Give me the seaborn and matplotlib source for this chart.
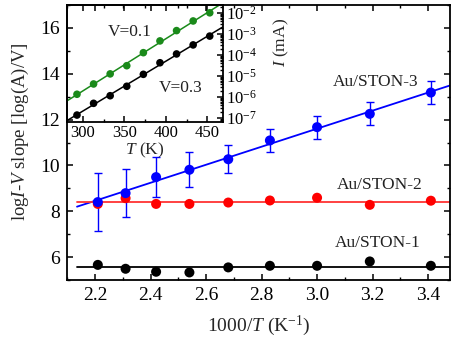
import numpy as np
import pandas as pd
import seaborn as sns
import matplotlib
matplotlib.use("Agg")
import matplotlib.pyplot as plt
from matplotlib.ticker import MultipleLocator, LogLocator, NullFormatter, LogFormatterMathtext

# ---- data ----
temps = [293, 313, 333, 353, 373, 393, 413, 433, 453]
inv_T = [2.21, 2.31, 2.42, 2.54, 2.68, 2.83, 3.00, 3.19, 3.41]
slope_ston3 = [8.40, 8.79, 9.49, 9.81, 10.27, 11.09, 11.67, 12.25, 13.18]
err_ston3 = [1.25, 1.05, 0.86, 0.76, 0.60, 0.50, 0.50, 0.50, 0.50]
slope_ston2 = [8.32, 8.57, 8.32, 8.32, 8.38, 8.47, 8.59, 8.28, 8.46]
slope_ston1 = [5.66, 5.49, 5.36, 5.33, 5.55, 5.62, 5.62, 5.81, 5.62]
I_v01 = [1.35e-6, 4.17e-6, 1.26e-5, 3.09e-5, 1.29e-4, 4.68e-4, 1.45e-3, 4.17e-3, 1.02e-2]
I_v03 = [1.38e-7, 5.0e-7, 1.15e-6, 3.24e-6, 1.20e-5, 4.27e-5, 1.12e-4, 3.02e-4, 7.94e-4]
series_names = ["Au/STON-1", "Au/STON-2", "Au/STON-3"]
inset_names = ["V=0.1", "V=0.3"]

sns.set_theme(style="ticks")
plt.rcParams.update({
    "font.family": ["Liberation Serif", "DejaVu Serif"],
    "mathtext.fontset": "custom",
    "mathtext.rm": "Liberation Serif",
    "mathtext.it": "Liberation Serif:italic",
    "mathtext.bf": "Liberation Serif:bold",
    "axes.edgecolor": "black",
    "axes.linewidth": 1.3,
    "xtick.color": "black", "ytick.color": "black",
    "xtick.direction": "in", "ytick.direction": "in",
    "xtick.major.width": 1.1, "ytick.major.width": 1.1,
    "xtick.minor.width": 1.0, "ytick.minor.width": 1.0,
    "xtick.major.size": 4, "ytick.major.size": 4,
    "xtick.minor.size": 2.5, "ytick.minor.size": 2.5,
    "text.color": "#222222",
})

fig = plt.figure(figsize=(4.51, 3.45), dpi=100)
ax = fig.add_axes([0.1486, 0.1884, 0.8492, 0.7971])

df = pd.DataFrame({"x": inv_T * 3,
                   "y": slope_ston1 + slope_ston2 + slope_ston3,
                   "s": [series_names[0]] * 9 + [series_names[1]] * 9 + [series_names[2]] * 9})
pal = {series_names[0]: "black", series_names[1]: "#ff0000", series_names[2]: "#0000ff"}

xlim = (2.099, 3.479)
fit_x = np.array([2.135, xlim[1]])
# fitted lines
c3 = np.polyfit(inv_T, slope_ston3, 1)
ax.plot(fit_x, np.polyval(c3, fit_x), color="#0000ff", lw=1.3, zorder=2)
ax.plot(fit_x, [np.mean(slope_ston2)] * 2, color="#ff3333", lw=1.3, zorder=2)
ax.plot(fit_x, [np.mean(slope_ston1)] * 2, color="black", lw=1.3, zorder=2)

ax.errorbar(inv_T, slope_ston3, yerr=err_ston3, fmt="none", ecolor="#0000ff",
            elinewidth=1.0, capsize=3, capthick=1.0, zorder=3)
sns.scatterplot(data=df, x="x", y="y", hue="s", palette=pal, s=52,
                edgecolor="none", legend=False, ax=ax, zorder=4)

ax.set_xlim(*xlim)
ax.set_ylim(5.0, 17.0)
ax.xaxis.set_major_locator(MultipleLocator(0.2))
ax.xaxis.set_minor_locator(MultipleLocator(0.1))
ax.yaxis.set_minor_locator(MultipleLocator(1))
ax.set_yticks([6, 8, 10, 12, 14, 16])
ax.tick_params(which="both", top=True, right=True, labelsize=14, pad=5)
ax.set_xlabel(r"1000/$\mathit{T}$ (K$^{\mathregular{-1}}$)", fontsize=14, labelpad=7)
ax.set_ylabel(r"log$\mathit{I}$-$\mathit{V}$ slope [log(A)/V]", fontsize=13.5)
ax.yaxis.set_label_coords(-0.093, 0.54)

ax.text(0.807, 0.719, series_names[2], transform=ax.transAxes, fontsize=12.5, ha="center", va="center")
ax.text(0.817, 0.345, series_names[1], transform=ax.transAxes, fontsize=12.5, ha="center", va="center")
ax.text(0.812, 0.134, series_names[0], transform=ax.transAxes, fontsize=12.5, ha="center", va="center")

# ---- inset ----
axi = fig.add_axes([0.1486, 0.6464, 0.3459, 0.3391])
axi.set_facecolor("none")
dfi = pd.DataFrame({"T": temps * 2, "I": I_v01 + I_v03,
                    "V": [inset_names[0]] * 9 + [inset_names[1]] * 9})
pali = {inset_names[0]: "#1a8a1a", inset_names[1]: "black"}
tlim = (281, 469)
tfit = np.array(tlim, dtype=float)
for name, vals in zip(inset_names, [I_v01, I_v03]):
    c = np.polyfit(temps, np.log10(vals), 1)
    axi.plot(tfit, 10 ** np.polyval(c, tfit), color=pali[name], lw=1.1, zorder=2)
sns.scatterplot(data=dfi, x="T", y="I", hue="V", palette=pali, s=30,
                edgecolor="none", legend=False, ax=axi, zorder=3)
axi.set_yscale("log")
axi.set_xlim(*tlim)
axi.set_ylim(10 ** -7.19, 10 ** -1.62)
axi.xaxis.set_major_locator(MultipleLocator(50))
axi.xaxis.set_minor_locator(MultipleLocator(25))
axi.yaxis.set_major_locator(LogLocator(base=10, numticks=20))
axi.yaxis.set_minor_locator(LogLocator(base=10, subs=np.arange(2, 10), numticks=20))
axi.yaxis.set_minor_formatter(NullFormatter())
axi.yaxis.set_major_formatter(LogFormatterMathtext())
axi.yaxis.tick_right()
axi.yaxis.set_label_position("right")
axi.tick_params(which="both", left=False, right=True, top=True, bottom=True)
axi.tick_params(axis="x", labelsize=12, pad=2)
axi.tick_params(axis="y", labelsize=12, pad=2)
axi.set_xlabel(r"$\mathit{T}$ (K)", fontsize=12.5, labelpad=0)
axi.set_ylabel(r"$\mathit{I}$ (mA)", fontsize=12.5)
axi.yaxis.set_label_coords(1.31, 0.68)
axi.text(0.40, 0.77, inset_names[0], transform=axi.transAxes, fontsize=12.5, ha="center", va="center")
axi.text(0.73, 0.29, inset_names[1], transform=axi.transAxes, fontsize=12.5, ha="center", va="center")

fig.savefig("out.png", dpi=100)
